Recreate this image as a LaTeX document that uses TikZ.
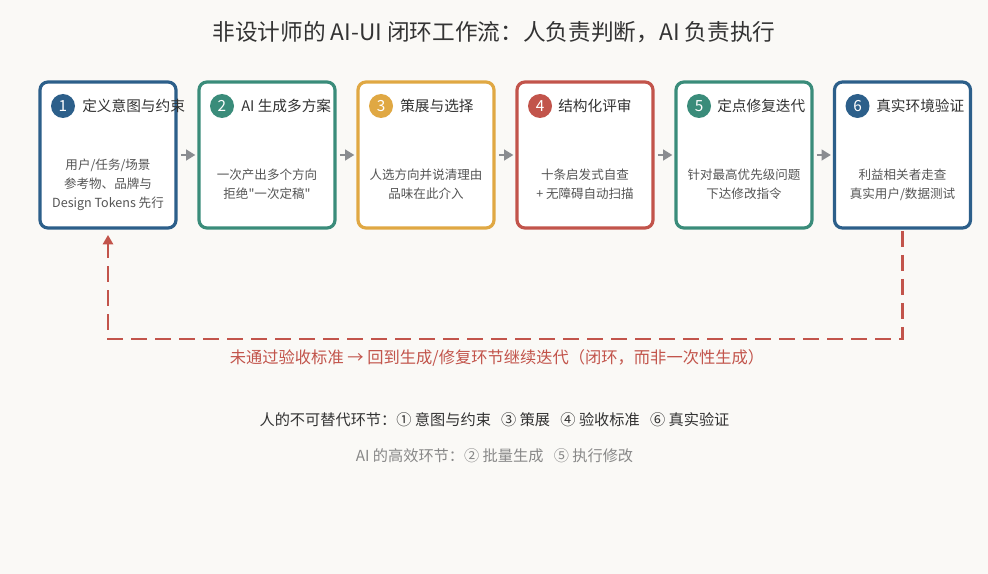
\documentclass[tikz,border=0pt]{standalone}
\usepackage{fontspec}
\setmainfont{Noto Sans CJK SC}[Ligatures=TeXOff]
\usetikzlibrary{arrows.meta}
\definecolor{bg}{HTML}{FAF9F6}
\definecolor{cblue}{HTML}{2C5F8A}
\definecolor{cteal}{HTML}{3A8C7A}
\definecolor{cgold}{HTML}{E0A843}
\definecolor{cred}{HTML}{C2544B}
\definecolor{txtdark}{HTML}{333333}
\definecolor{txtbody}{HTML}{555555}
\definecolor{txtgray}{HTML}{888888}
\definecolor{arrgray}{HTML}{8A8C90}
\tikzset{
  stepbox/.style={draw=#1, line width=2.4pt, rounded corners=6pt, fill=white,
    minimum width=102pt, minimum height=109.5pt, inner sep=0pt},
  numdot/.style={circle, fill=#1, text=white, minimum size=18pt, inner sep=0pt,
    font=\fontsize{11.5pt}{12pt}\selectfont},
  boxtitle/.style={anchor=west, text=txtdark, inner sep=0pt,
    font=\fontsize{11pt}{12pt}\selectfont},
  boxbody/.style={align=center, text=txtbody, inner sep=0pt,
    font=\fontsize{9.4pt}{14.2pt}\selectfont},
  flow/.style={draw=arrgray, line width=1.9pt, -{Triangle[length=7pt,width=8pt]},
    shorten <=2.5pt, shorten >=1.5pt},
  loopback/.style={draw=cred, line width=2pt, dash pattern=on 12pt off 6pt,
    -{Triangle[length=7pt,width=7.5pt]}, shorten <=1pt, shorten >=4pt},
}
\begin{document}
\begin{tikzpicture}[x=0.75pt,y=-0.75pt]
\fill[bg] (0,0) rectangle (988,574);
\useasboundingbox (0,0) rectangle (988,574);

\node[text=txtdark, font=\fontsize{17pt}{18pt}\selectfont] (title) at (494,32)
  {非设计师的 AI-UI 闭环工作流：人负责判断，AI 负责执行};

% boxes
\node[stepbox=cblue] (b1) at (108,155) {};
\node[stepbox=cteal] (b2) at (267,155) {};
\node[stepbox=cgold] (b3) at (426,155) {};
\node[stepbox=cred]  (b4) at (585,155) {};
\node[stepbox=cteal] (b5) at (744,155) {};
\node[stepbox=cblue] (b6) at (902.5,155) {};

% numbers
\node[numdot=cblue] (n1) at (63,106) {1};
\node[numdot=cteal] (n2) at (222,106) {2};
\node[numdot=cgold] (n3) at (381,106) {3};
\node[numdot=cred]  (n4) at (540,106) {4};
\node[numdot=cteal] (n5) at (699,106) {5};
\node[numdot=cblue] (n6) at (857.5,106) {6};

% titles
\node[boxtitle] (t1) at (82,106) {定义意图与约束};
\node[boxtitle] (t2) at (241,106) {AI 生成多方案};
\node[boxtitle] (t3) at (400,106) {策展与选择};
\node[boxtitle] (t4) at (558,106) {结构化评审};
\node[boxtitle] (t5) at (717,106) {定点修复迭代};
\node[boxtitle] (t6) at (876,106) {真实环境验证};

% bodies
\node[boxbody] (d1) at (108,185) {用户/任务/场景\\参考物、品牌与\\Design Tokens 先行};
\node[boxbody] (d2) at (267,184.5) {一次产出多个方向\\拒绝"一次定稿"};
\node[boxbody] (d3) at (426,184.5) {人选方向并说清理由\\品味在此介入};
\node[boxbody] (d4) at (585,184.5) {十条启发式自查\\+ 无障碍自动扫描};
\node[boxbody] (d5) at (744,184.5) {针对最高优先级问题\\下达修改指令};
\node[boxbody] (d6) at (902.5,184.5) {利益相关者走查\\真实用户/数据测试};

% flow arrows
\draw[flow] (b1.east) -- (b2.west);
\draw[flow] (b2.east) -- (b3.west);
\draw[flow] (b3.east) -- (b4.west);
\draw[flow] (b4.east) -- (b5.west);
\draw[flow] (b5.east) -- (b6.west);

% loop back
\coordinate (lc) at (902.5,339);
\draw[loopback] (b6.south) -- (lc) -| (b1.south);

\node[text=cred, font=\fontsize{12.2pt}{14pt}\selectfont] (looplabel) at (497,358)
  {未通过验收标准 → 回到生成/修复环节继续迭代（闭环，而非一次性生成）};

\node[text=txtdark, font=\fontsize{11.4pt}{13pt}\selectfont] (human) at (494.5,420)
  {人的不可替代环节：① 意图与约束 \ \ ③ 策展 \ \ ④ 验收标准 \ \ ⑥ 真实验证};
\node[text=txtgray, font=\fontsize{11.4pt}{13pt}\selectfont] (ai) at (494.5,456)
  {AI 的高效环节：② 批量生成 \ \ ⑤ 执行修改};
\end{tikzpicture}
\end{document}
